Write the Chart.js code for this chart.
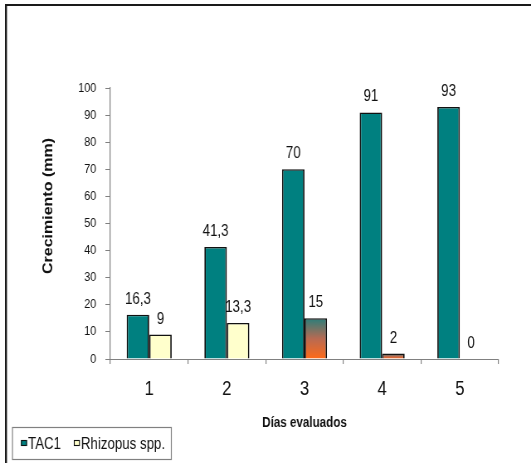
<!DOCTYPE html>
<html><head><meta charset="utf-8">
<script src="https://cdn.jsdelivr.net/npm/chart.js@4.4.0/dist/chart.umd.min.js"></script>
<style>
html,body{margin:0;padding:0;background:#fff;overflow:hidden;}
#wrap{position:relative;width:531px;height:463px;overflow:hidden;}
#c{position:absolute;left:0;top:0;width:640px;height:463px;transform:scaleX(0.8297);transform-origin:0 0;}
</style>
</head><body><div id="wrap"><canvas id="c" width="640" height="463"></canvas></div>
<script>
// ---- data ----
const categories = ['1', '2', '3', '4', '5'];
const seriesNames = ['TAC1', 'Rhizopus spp.'];
const tac1Values = [16.3, 41.3, 70, 91, 93];
const rhizopusValues = [9, 13.3, 15, 2, 0];
const yTickValues = [0, 10, 20, 30, 40, 50, 60, 70, 80, 90, 100];
const xAxisTitle = 'Días evaluados';
const yAxisTitle = 'Crecimiento (mm)';

// ---- styles ----
const FONT = '"Liberation Sans", Arial, sans-serif';
const TEAL = '#008080';
const CREAM = '#FFFFCC';
const gradientCategories = ['3', '4'];
const BAR_BORDER = { top: 1.5, bottom: 0, left: 1.8, right: 1.8 };

function rhizopusFill(c) {
  const chart = c.chart;
  if (!gradientCategories.includes(categories[c.dataIndex])) return CREAM;
  const y = chart.scales && chart.scales.y;
  if (!y || !chart.chartArea) return '#c86a40';
  const top = y.getPixelForValue(c.raw);
  const bot = y.getPixelForValue(0);
  const g = chart.ctx.createLinearGradient(0, top, 0, bot);
  g.addColorStop(0, '#2a7e7a');
  g.addColorStop(0.5, '#b86a52');
  g.addColorStop(1, '#ff6a18');
  return g;
}

const valueLabels = {
  id: 'valueLabels',
  afterDatasetsDraw(chart) {
    const ctx = chart.ctx;
    ctx.save();
    ctx.font = '16px ' + FONT;
    ctx.fillStyle = '#111';
    ctx.textAlign = 'center';
    ctx.textBaseline = 'alphabetic';
    chart.data.datasets.forEach((ds, i) => {
      chart.getDatasetMeta(i).data.forEach((bar, j) => {
        const txt = String(ds.data[j]).replace('.', ',');
        ctx.fillText(txt, bar.x, bar.y - 11);
      });
    });
    ctx.restore();
  }
};

const frameTitleLegend = {
  id: 'frameTitleLegend',
  afterDraw(chart) {
    const ctx = chart.ctx;
    ctx.save();
    // outer frame (left and top edges)
    ctx.fillStyle = '#1a1a1a';
    ctx.fillRect(6, 4, 640, 2);
    ctx.fillRect(6, 4, 2.4, 463);
    // y axis title
    ctx.save();
    ctx.translate(59, 206);
    ctx.rotate(-Math.PI / 2);
    ctx.font = 'bold 16px ' + FONT;
    ctx.fillStyle = '#111';
    ctx.textAlign = 'center';
    ctx.textBaseline = 'middle';
    ctx.fillText(yAxisTitle, 0, 0);
    ctx.restore();
    // legend
    ctx.strokeStyle = '#808080';
    ctx.lineWidth = 1.2;
    ctx.strokeRect(15, 427.5, 191.5, 32);
    ctx.font = '16px ' + FONT;
    ctx.textBaseline = 'alphabetic';
    ctx.textAlign = 'left';
    ctx.lineWidth = 1.1;
    let x = 25.3;
    chart.data.datasets.forEach((ds) => {
      ctx.fillStyle = ds.legendColor;
      ctx.fillRect(x, 440, 7.2, 6);
      ctx.strokeStyle = '#111';
      ctx.strokeRect(x + 0.5, 440.5, 6.2, 5);
      ctx.fillStyle = '#111';
      ctx.fillText(ds.label, x + 8.5, 448.5);
      x += 8.5 + ctx.measureText(ds.label).width + 15.5;
    });
    ctx.restore();
  }
};

new Chart(document.getElementById('c'), {
  type: 'bar',
  data: {
    labels: categories,
    datasets: [
      { label: seriesNames[0], data: tac1Values, backgroundColor: TEAL, legendColor: TEAL,
        borderColor: '#111', borderWidth: BAR_BORDER, borderSkipped: false,
        categoryPercentage: 0.58, barPercentage: 1.0 },
      { label: seriesNames[1], data: rhizopusValues, backgroundColor: rhizopusFill, legendColor: CREAM,
        borderColor: '#111', borderWidth: BAR_BORDER, borderSkipped: false,
        categoryPercentage: 0.58, barPercentage: 1.0 }
    ]
  },
  options: {
    responsive: false,
    animation: false,
    devicePixelRatio: 1,
    layout: { padding: { top: 88, right: 39, bottom: 29, left: 0 } },
    plugins: { legend: { display: false }, tooltip: { enabled: false } },
    scales: {
      x: {
        grid: { display: true, drawOnChartArea: false, drawTicks: true, tickLength: 5, color: '#808080', lineWidth: 1.2, offset: true },
        border: { display: true, color: '#808080', width: 1 },
        ticks: { font: { family: FONT, size: 20 }, color: '#111', padding: 13 },
        title: { display: true, text: xAxisTitle, font: { family: FONT, size: 14, weight: 'bold' }, color: '#111', padding: { top: 0, bottom: 2 } },
        afterFit(s) { s.height = 75; }
      },
      y: {
        min: 0, max: 100,
        grid: { display: true, drawOnChartArea: false, drawTicks: true, tickLength: 6, color: '#808080' },
        border: { display: true, color: '#808080', width: 1.2 },
        ticks: { font: { family: FONT, size: 13 }, color: '#111', padding: 11 },
        afterBuildTicks(s) { s.ticks = yTickValues.map(v => ({ value: v })); },
        title: { display: false },
        afterFit(s) { s.width = 133; }
      }
    }
  },
  plugins: [valueLabels, frameTitleLegend]
});
</script></body></html>
